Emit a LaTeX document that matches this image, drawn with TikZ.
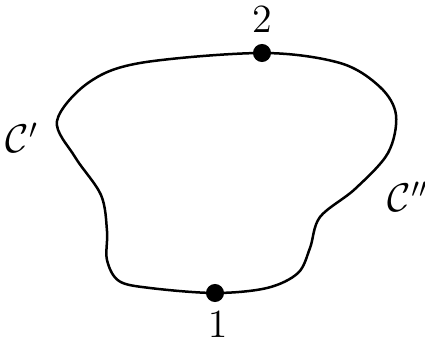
\documentclass[tikz,border=0pt]{standalone}
\usepackage{amsmath,amssymb}
\usetikzlibrary{positioning}

\begin{document}
\begin{tikzpicture}[x=0.36pt,y=0.36pt,
dot/.style={circle,fill,inner sep=0pt,minimum size=6.5pt},
lbl/.style={font=\Large,inner sep=0pt}]
\useasboundingbox (0,0) rectangle (425,343);
% points on the contour
\coordinate (p1) at (215,50);
\coordinate (p2) at (262,290);
\coordinate (a1) at (140,280);
\coordinate (a2) at (88,260);
\coordinate (a3) at (57,222);
\coordinate (a4) at (75,186);
\coordinate (a5) at (101,148);
\coordinate (a6) at (107,112);
\coordinate (a7) at (107,83);
\coordinate (a8) at (119,62);
\coordinate (a9) at (150,55);
\coordinate (b1) at (267,55);
\coordinate (b2) at (298,70);
\coordinate (b3) at (310,95);
\coordinate (b4) at (320,126);
\coordinate (b5) at (355,154);
\coordinate (b6) at (388,190);
\coordinate (b7) at (396,228);
\coordinate (b8) at (380,256);
\coordinate (b9) at (340,280);
\draw[line width=0.9pt] plot[smooth cycle,tension=0.55] coordinates
  {(p2) (a1) (a2) (a3) (a4) (a5) (a6) (a7) (a8) (a9)
   (p1) (b1) (b2) (b3) (b4) (b5) (b6) (b7) (b8) (b9)};
\node[dot] (P1) at (p1) {};
\node[dot] (P2) at (p2) {};
\node[lbl,above=3.6pt of P2] (L2) {$2$};
\node[lbl,below=3pt of P1,xshift=1pt] (L1) {$1$};
\node[lbl] (C1) at (22,205) {$\mathcal{C}'$};
\node[lbl] (C2) at (408,146) {$\mathcal{C}''$};
\end{tikzpicture}
\end{document}
